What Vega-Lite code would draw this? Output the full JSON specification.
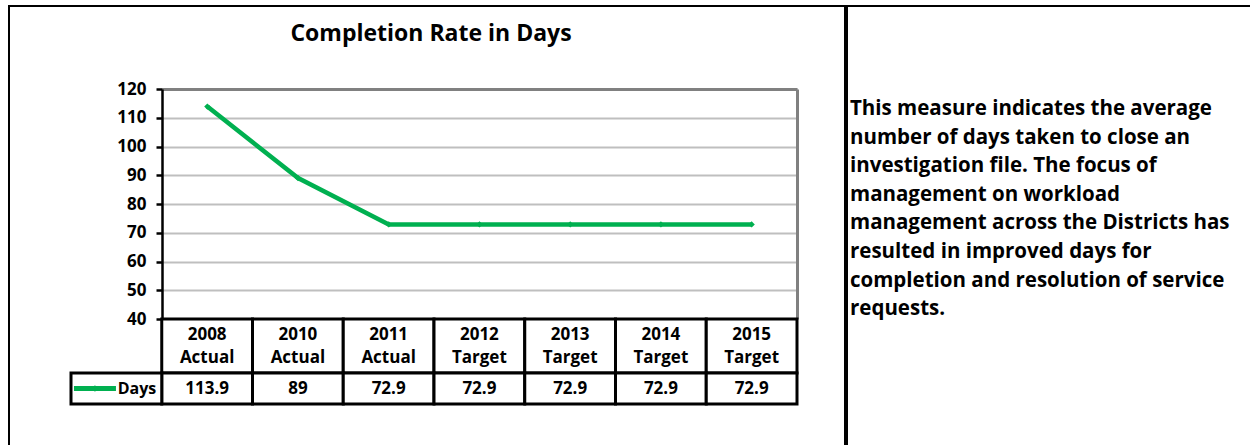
{
  "$schema": "https://vega.github.io/schema/vega-lite/v6.json",
  "padding": {"left": 8, "top": 5, "right": 0, "bottom": 0},
  "spacing": 0,
  "background": "white",
  "config": {
    "view": {"stroke": "black", "strokeWidth": 2},
    "font": "Open Sans",
    "concat": {"spacing": 0}
  },
  "datasets": {
    "days": [
      {"cat": "2008 Actual", "days": 113.9},
      {"cat": "2010 Actual", "days": 89},
      {"cat": "2011 Actual", "days": 72.9},
      {"cat": "2012 Target", "days": 72.9},
      {"cat": "2013 Target", "days": 72.9},
      {"cat": "2014 Target", "days": 72.9},
      {"cat": "2015 Target", "days": 72.9}
    ],
    "series": [{"series": "Days"}],
    "note": [{"note": "This measure indicates the average\nnumber of days taken to close an\ninvestigation file.  The focus of\nmanagement on workload\nmanagement across the Districts has\nresulted in improved days for\ncompletion and resolution of service\nrequests."}]
  },
  "hconcat": [
    {
      "width": 836,
      "height": 440,
      "title": {"text": "Completion Rate in Days", "anchor": "middle", "frame": "group", "offset": -51, "dx": 4, "baseline": "middle", "fontSize": 23, "font": "Open Sans", "fontWeight": "bold", "color": "black"},
      "resolve": {"scale": {"x": "independent", "y": "independent"}, "axis": {"x": "independent", "y": "independent"}},
      "layer": [
        {
          "data": {"name": "days"},
          "mark": {"type": "line", "color": "#00b050", "strokeWidth": 4.5},
          "encoding": {
            "x": {"field": "cat", "type": "nominal", "sort": null,
                  "scale": {"type": "band", "range": [153, 788], "paddingInner": 0, "paddingOuter": 0},
                  "axis": {"orient": "top", "offset": -83, "domainColor": "#808080", "domainWidth": 3, "ticks": false, "labels": false, "grid": false, "title": null}},
            "y": {"field": "days", "type": "quantitative",
                  "scale": {"domain": [40, 120], "range": [313, 83], "nice": false, "zero": false},
                  "axis": {"orient": "left", "offset": -153, "values": [40, 50, 60, 70, 80, 90, 100, 110, 120], "grid": true, "gridColor": "#bfbfbf", "gridWidth": 2, "domainColor": "black", "domainWidth": 2.5, "tickColor": "black", "tickWidth": 2.5, "tickSize": 6, "labelFont": "Open Sans", "labelFontWeight": "bold", "labelFontSize": 17, "labelColor": "black", "labelPadding": 10, "title": null}}
          }
        },
        {
          "data": {"name": "days"},
          "mark": {"type": "point", "shape": "diamond", "filled": true, "color": "#00b050", "size": 40, "opacity": 1},
          "encoding": {
            "x": {"field": "cat", "type": "nominal", "sort": null,
                  "scale": {"type": "band", "range": [153, 788], "paddingInner": 0, "paddingOuter": 0}, "axis": null},
            "y": {"field": "days", "type": "quantitative",
                  "scale": {"domain": [40, 120], "range": [313, 83], "nice": false, "zero": false},
                  "axis": {"orient": "right", "offset": -48, "domainColor": "#808080", "domainWidth": 3, "ticks": false, "labels": false, "grid": false, "title": null}}
          }
        },
        {
          "data": {"name": "days"},
          "encoding": {
            "x": {"field": "cat", "type": "nominal", "sort": null,
                  "scale": {"type": "band", "domain": ["Days", "2008 Actual", "2010 Actual", "2011 Actual", "2012 Target", "2013 Target", "2014 Target", "2015 Target"], "range": [62, 788], "paddingInner": 0, "paddingOuter": 0}, "axis": null},
            "y": {"datum": "label", "type": "nominal", "scale": {"type": "band", "range": [313, 367], "paddingInner": 0, "paddingOuter": 0}, "axis": null}
          },
          "layer": [
            {"mark": {"type": "rect", "fill": "white", "stroke": "black", "strokeWidth": 3}},
            {"mark": {"type": "text", "lineBreak": " ", "lineHeight": 23, "font": "Open Sans", "fontWeight": "bold", "fontSize": 17, "color": "black", "baseline": "middle", "dy": -11.5},
             "encoding": {"text": {"field": "cat"}}}
          ]
        },
        {
          "data": {"name": "days"},
          "encoding": {
            "x": {"field": "cat", "type": "nominal", "sort": null,
                  "scale": {"type": "band", "domain": ["Days", "2008 Actual", "2010 Actual", "2011 Actual", "2012 Target", "2013 Target", "2014 Target", "2015 Target"], "range": [62, 788], "paddingInner": 0, "paddingOuter": 0}, "axis": null},
            "y": {"datum": "value", "type": "nominal", "scale": {"type": "band", "range": [367, 398], "paddingInner": 0, "paddingOuter": 0}, "axis": null}
          },
          "layer": [
            {"mark": {"type": "rect", "fill": "white", "stroke": "black", "strokeWidth": 3}},
            {"mark": {"type": "text", "font": "Open Sans", "fontWeight": "bold", "fontSize": 17, "color": "black", "baseline": "middle"},
             "encoding": {"text": {"field": "days", "type": "quantitative"}}}
          ]
        },
        {
          "data": {"name": "series"},
          "encoding": {
            "x": {"field": "series", "type": "nominal",
                  "scale": {"type": "band", "domain": ["Days", "2008 Actual", "2010 Actual", "2011 Actual", "2012 Target", "2013 Target", "2014 Target", "2015 Target"], "range": [62, 788], "paddingInner": 0, "paddingOuter": 0}, "axis": null},
            "y": {"datum": "value", "type": "nominal", "scale": {"type": "band", "range": [367, 398], "paddingInner": 0, "paddingOuter": 0}, "axis": null}
          },
          "layer": [
            {"mark": {"type": "rect", "fill": "white", "stroke": "black", "strokeWidth": 3}},
            {"mark": {"type": "point", "shape": "stroke", "filled": false, "stroke": "#00b050", "strokeWidth": 5, "size": 1764, "opacity": 1},
             "encoding": {"x": {"field": "series", "type": "nominal", "bandPosition": 0.264}}},
            {"mark": {"type": "point", "shape": "diamond", "filled": true, "color": "#00b050", "size": 40, "opacity": 1},
             "encoding": {"x": {"field": "series", "type": "nominal", "bandPosition": 0.264}}},
            {"mark": {"type": "text", "font": "Open Sans", "fontWeight": "bold", "fontSize": 16, "color": "black", "baseline": "middle", "align": "right"},
             "encoding": {"x": {"field": "series", "type": "nominal", "bandPosition": 0.94}, "text": {"field": "series"}}}
          ]
        }
      ]
    },
    {
      "width": 406,
      "height": 440,
      "data": {"name": "note"},
      "mark": {"type": "text", "lineBreak": "\n", "lineHeight": 28.6, "font": "Open Sans", "fontWeight": "bold", "fontSize": 20.5, "color": "black", "align": "left", "baseline": "middle", "dx": 3, "dy": -117},
      "encoding": {
        "x": {"datum": 0, "type": "quantitative", "scale": {"domain": [0, 1]}, "axis": null},
        "text": {"field": "note"}
      }
    }
  ]
}
